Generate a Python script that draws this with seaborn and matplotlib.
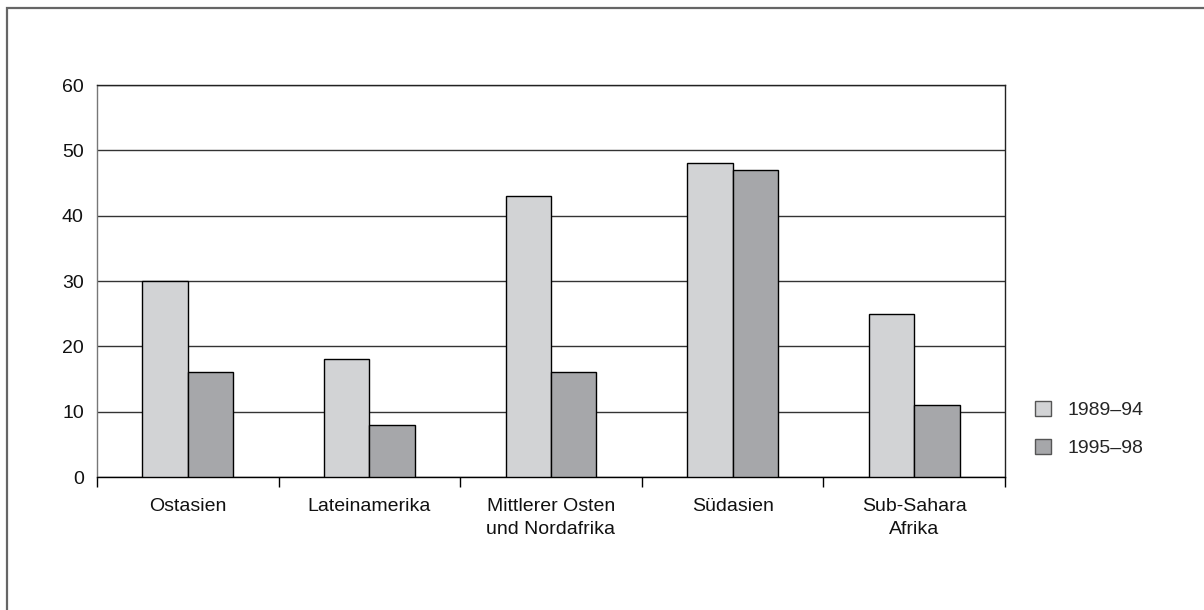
import numpy as np
import pandas as pd
import seaborn as sns
import matplotlib.pyplot as plt
from matplotlib.patches import Rectangle

regionen = ['Ostasien', 'Lateinamerika', 'Mittlerer Osten\nund Nordafrika',
            'Südasien', 'Sub-Sahara\nAfrika']
perioden = ['1989–94', '1995–98']
werte_1989_94 = [30, 18, 43, 48, 25]
werte_1995_98 = [16, 8, 16, 47, 11]
y_ticks = [0, 10, 20, 30, 40, 50, 60]

df = pd.DataFrame({
    'Region': regionen * 2,
    'Periode': [perioden[0]] * 5 + [perioden[1]] * 5,
    'Wert': werte_1989_94 + werte_1995_98,
})

sns.set_style('white')
plt.rcParams['font.family'] = ['Liberation Sans', 'DejaVu Sans']

fig = plt.figure(figsize=(12.04, 6.10), dpi=100)
ax = fig.add_axes([97 / 1204, 1 - 477 / 610, 908 / 1204, 392 / 610])

# Rahmen um die Grafik (nur links und oben sichtbar)
fig.patches.append(Rectangle((7 / 1204, -0.1), 1.2, 1.1 - 7.5 / 610,
                             transform=fig.transFigure, fill=False,
                             edgecolor='#666666', linewidth=1.6, zorder=0))

sns.barplot(data=df, x='Region', y='Wert', hue='Periode', order=regionen,
            hue_order=perioden, palette=['#d2d3d5', '#a6a7aa'], width=0.5,
            edgecolor='black', linewidth=1, saturation=1, ax=ax, zorder=3)

ax.set_ylim(0, 60)
ax.set_xlim(-0.5, 4.5)
ax.set_yticks(y_ticks)
ax.yaxis.grid(True, color='#333333', linewidth=1)
ax.set_axisbelow(True)
ax.set_xlabel('')
ax.set_ylabel('')

ax.tick_params(axis='y', length=0, pad=9.5, labelsize=14, colors='#111111')
ax.tick_params(axis='x', which='major', length=0, pad=15, labelsize=14,
               colors='#111111')
ax.set_xticks(np.arange(-0.5, 5.0, 1.0), minor=True)
ax.tick_params(axis='x', which='minor', length=7, width=1, color='black',
               direction='out', bottom=True)

for s in ['left', 'right', 'top', 'bottom']:
    ax.spines[s].set_visible(True)
    ax.spines[s].set_linewidth(1)
ax.spines['left'].set_color('#777777')
ax.spines['right'].set_color('#222222')
ax.spines['top'].set_color('#222222')
ax.spines['bottom'].set_color('black')

handles, labels = ax.get_legend_handles_labels()
for h in handles:
    h.set_edgecolor('#555555')
ax.legend(handles, labels, loc='center left',
          bbox_to_anchor=(1035 / 1204, 1 - 429 / 610),
          bbox_transform=fig.transFigure, frameon=False, fontsize=14,
          borderpad=0, borderaxespad=0,
          handlelength=0.8, handleheight=0.8, handletextpad=0.85,
          labelspacing=1.0)

# Zeilenabstand der zweizeiligen Beschriftungen
fig.canvas.draw()
for lbl in ax.xaxis.get_majorticklabels():
    lbl.set_linespacing(1.45)

fig.savefig('out.png', dpi=100)
